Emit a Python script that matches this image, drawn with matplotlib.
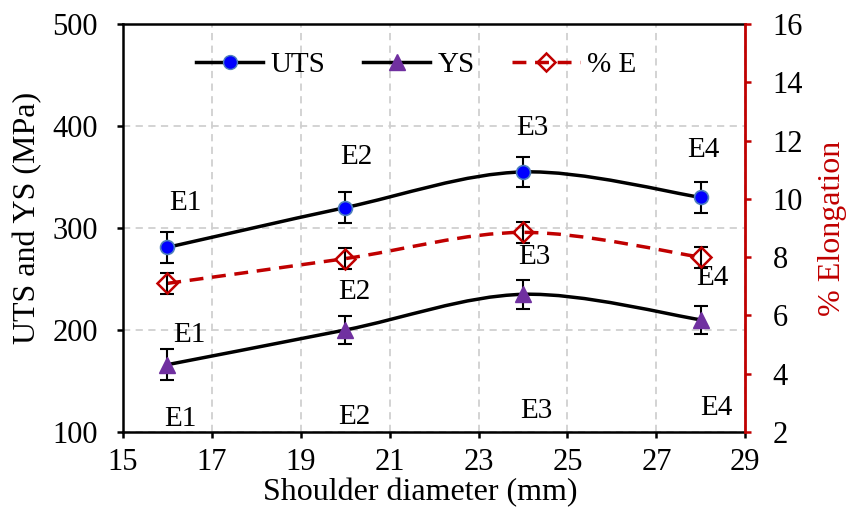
import matplotlib.pyplot as plt
from matplotlib.path import Path
from matplotlib.patches import PathPatch
from matplotlib.lines import Line2D
import numpy as np

plt.rcParams['font.family'] = ['Liberation Serif', 'DejaVu Serif']

RED = "#c00000"
BLUE = "#0000ff"
PURPLE = "#7030a0"
FS = 21

diameter = [16, 20, 24, 28]
uts = [281, 320, 355, 330]
uts_err = [15, 15, 15, 15]
ys = [166, 200, 235, 210]
ys_err = [15, 14, 14, 14]
elong = [7.1, 7.95, 8.85, 8.0]
elong_err = [0.36, 0.36, 0.36, 0.36]
labels = ["E1", "E2", "E3", "E4"]

# label anchors (x, y on left axis)
uts_lab = [(16.4, 325), (20.25, 370), (24.2, 398), (28.05, 376)]
ys_lab = [(16.5, 195), (20.2, 237), (24.25, 272), (28.25, 251)]
bot_lab = [(16.3, 113), (20.2, 115), (24.3, 121), (28.35, 124)]


def smooth_path(x, y):
    # Excel-style smoothed line: cubic bezier segments through the points
    p = np.column_stack([x, y]).astype(float)
    n = len(p)
    verts = [p[0]]
    codes = [Path.MOVETO]
    for i in range(n - 1):
        p0 = p[i - 1] if i > 0 else p[i]
        p3 = p[i + 2] if i + 2 < n else p[i + 1]
        c1 = p[i] + (p[i + 1] - p0) / 6
        c2 = p[i + 1] - (p3 - p[i]) / 6
        verts += [c1, c2, p[i + 1]]
        codes += [Path.CURVE4] * 3
    return Path(verts, codes)


fig = plt.figure(figsize=(8.47, 5.11), dpi=100)
ax = fig.add_axes([0.145, 0.1546, 0.735, 0.7984])
ax2 = ax.twinx()

ax.set_xlim(15, 29)
ax.set_ylim(100, 500)
ax2.set_ylim(2, 16)
ax.set_xticks(range(15, 30, 2))
ax.set_yticks(range(100, 501, 100))
ax2.set_yticks(range(2, 17, 2))

ax.grid(True, color="#d0d0d0", linestyle=(0, (4, 3)), linewidth=1.3)
ax.set_axisbelow(True)

for s in ["left", "bottom", "top"]:
    ax.spines[s].set_linewidth(1.8)
    ax.spines[s].set_color("black")
ax.spines["right"].set_visible(False)
ax2.spines["right"].set_color(RED)
ax2.spines["right"].set_linewidth(2)
for s in ["left", "top", "bottom"]:
    ax2.spines[s].set_visible(False)

ax.tick_params(axis="both", direction="out", length=4.5, width=1.8,
               labelsize=22, colors="black")
ax.tick_params(axis="y", pad=13.5)
ax.tick_params(axis="x", pad=7)
ax2.tick_params(axis="y", direction="out", length=4.5, width=1.8, pad=15,
                labelsize=22, color=RED, labelcolor="black")

# UTS
ax.add_patch(PathPatch(smooth_path(diameter, uts), facecolor="none",
                       edgecolor="black", lw=2.5, zorder=3))
ax.errorbar(diameter, uts, yerr=uts_err, fmt="none", ecolor="black",
            elinewidth=1.5, capsize=5, capthick=1.5, zorder=4)
ax.plot(diameter, uts, "o", color=BLUE, mec="#4f81bd", mew=1.2, ms=10, zorder=5)

# YS
ax.add_patch(PathPatch(smooth_path(diameter, ys), facecolor="none",
                       edgecolor="black", lw=2.5, zorder=3))
ax.errorbar(diameter, ys, yerr=ys_err, fmt="none", ecolor="black",
            elinewidth=1.5, capsize=5, capthick=1.5, zorder=4)
ax.plot(diameter, ys, "^", color=PURPLE, ms=11, zorder=5)

# Elongation
ax2.add_patch(PathPatch(smooth_path(diameter, elong), facecolor="none",
                        edgecolor=RED, lw=2.5, linestyle=(0, (4, 2.5)), zorder=3))
ax2.errorbar(diameter, elong, yerr=elong_err, fmt="none", ecolor="black",
             elinewidth=1.5, capsize=5, capthick=1.5, zorder=4)
ax2.plot(diameter, elong, "D", mfc="none", mec=RED, mew=1.8, ms=10, zorder=5)

for lab, (x, y) in zip(labels, uts_lab):
    ax.text(x, y, lab, fontsize=FS, ha="center", va="center")
for lab, (x, y) in zip(labels, ys_lab):
    ax.text(x, y, lab, fontsize=FS, ha="center", va="center")
for lab, (x, y) in zip(labels, bot_lab):
    ax.text(x, y, lab, fontsize=FS, ha="center", va="center")

ax.set_xlabel("Shoulder diameter (mm)", fontsize=23)
ax.xaxis.set_label_coords(0.4775, -0.113)
ax.set_ylabel("UTS and YS (MPa)", fontsize=23)
ax.yaxis.set_label_coords(-0.13, 0.525)
ax2.set_ylabel("% Elongation", fontsize=23, color=RED)
ax2.yaxis.set_label_coords(1.117, 0.5)

handles = [
    Line2D([], [], color="black", lw=2.5, marker="o", mfc=BLUE, mec="#4f81bd", ms=10),
    Line2D([], [], color="black", lw=2.5, marker="^", mfc=PURPLE, mec=PURPLE, ms=11),
    Line2D([], [], color=RED, lw=2.5, ls=(0, (4, 2.5)), marker="D", mfc="none",
           mec=RED, mew=1.8, ms=9),
]
ax.legend(handles, ["UTS", "YS", "% E"], loc="center", ncol=3,
          frameon=False, fontsize=FS, bbox_to_anchor=(0.471, 0.9),
          handlelength=2.3, handletextpad=0.25, columnspacing=1.3,
          borderpad=0)

fig.savefig("out.png", dpi=100)
